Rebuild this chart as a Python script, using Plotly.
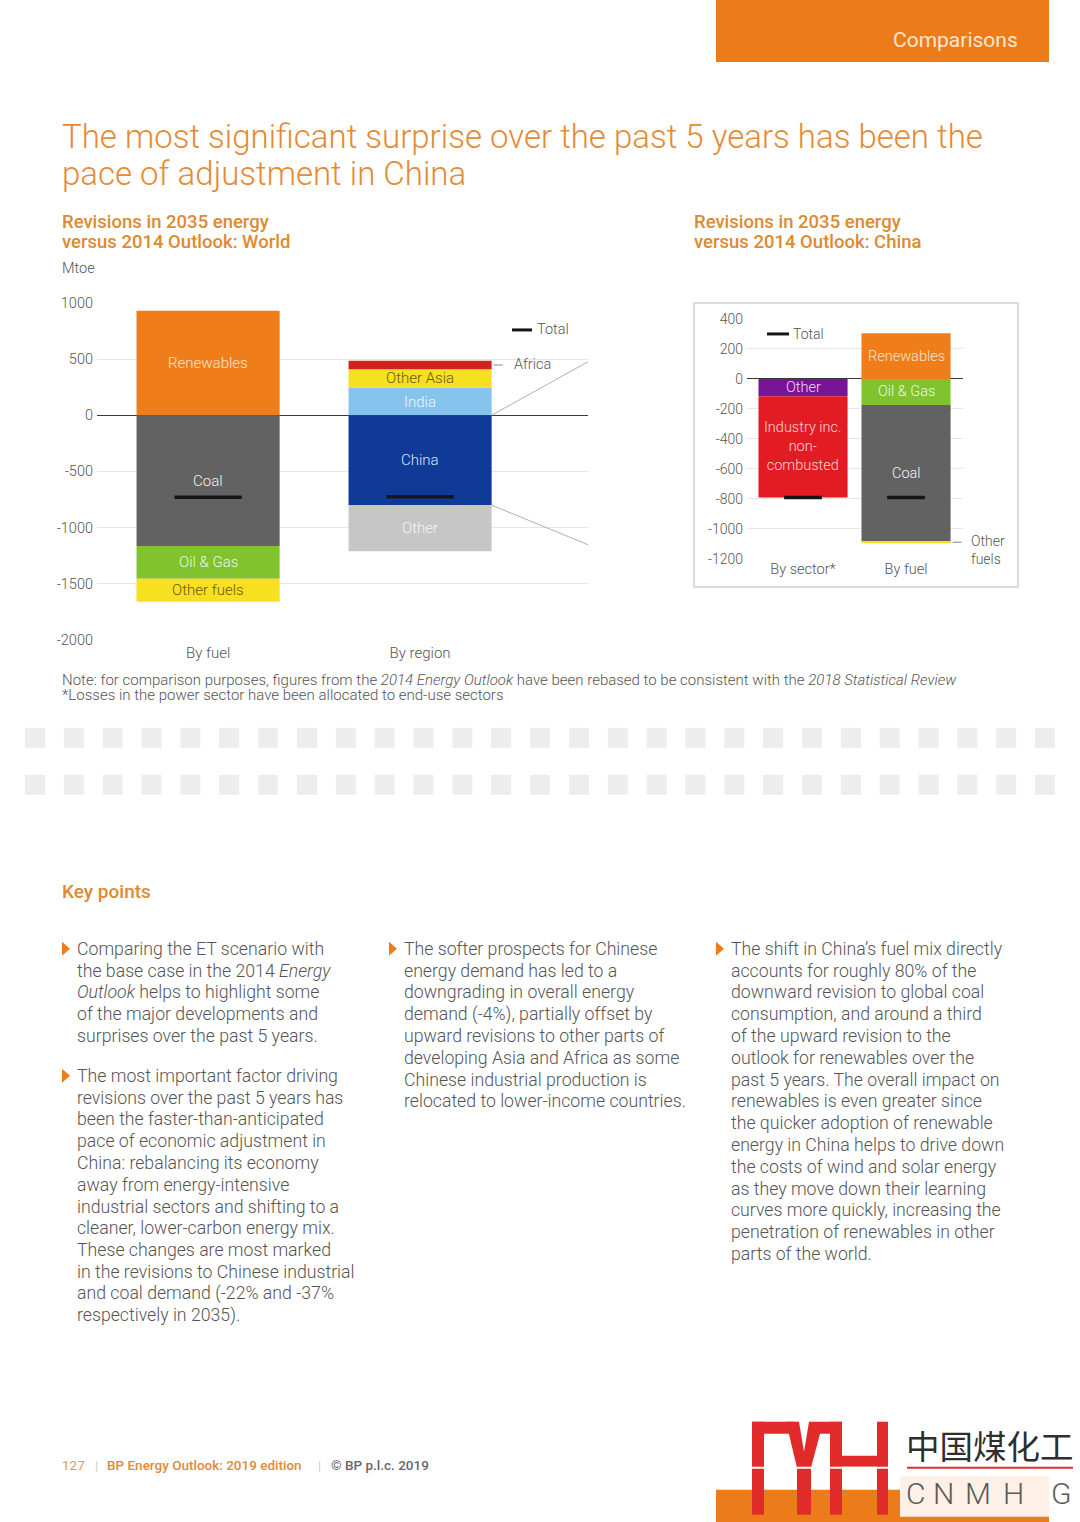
import plotly.graph_objects as go

W, H = 1080, 1522
# the capture maps page y to roughly 8 + 0.989*y; positions below are given in
# target-image pixels and converted back to page pixels here
Y_OFF, Y_SCALE = 8.0, 0.989


def px(x):
    return x / W


def py(y):
    return 1 - ((y - Y_OFF) / Y_SCALE) / H


# ---------------- data ----------------
world_cats = ["By fuel", "By region"]
world_fuel_labels = ["Renewables", "Coal", "Oil & Gas", "Other fuels"]
world_fuel_values = [930, -1165, -290, -205]
world_fuel_total = -730
world_region_labels = ["India", "Other Asia", "Africa", "China", "Other"]
world_region_values = [245, 165, 75, -800, -410]
world_region_total = -725
world_ticks = [1000, 500, 0, -500, -1000, -1500, -2000]

china_cats = ["By sector*", "By fuel"]
china_sector_labels = ["Other", "Industry inc.<br>non-<br>combusted"]
china_sector_values = [-115, -675]
china_sector_total = -790
china_fuel_labels = ["Renewables", "Oil & Gas", "Coal", "Other fuels"]
china_fuel_values = [305, -173, -910, -12]
china_fuel_total = -790
china_ticks = [400, 200, 0, -200, -400, -600, -800, -1000, -1200]

# ---------------- styles ----------------
ORANGE = "#ec7d1d"
TXT = "#555555"
FONT = "Roboto"
LIGHT = 300
seg_color = {
    "Renewables": "#ee7d1a", "Coal": "#626262", "Oil & Gas": "#80c32e",
    "Other fuels": "#f6e020", "India": "#86c4ee", "Other Asia": "#f6e020",
    "Africa": "#d8201f", "China": "#0f3a98", "Other": "#c6c6c6",
}
seg_text = {
    "Renewables": "#fbe3cf", "Coal": "#f2f2f2", "Oil & Gas": "#eef7e0",
    "Other fuels": "#6b5a10", "India": "#eef7fd", "Other Asia": "#6b5a10",
    "China": "#dfe6f6", "Other": "#f5f5f5",
}
china_seg_color = {"Other": "#7a1497", "Industry inc.<br>non-<br>combusted": "#e31b22",
                   "Renewables": "#ee7d1a", "Oil & Gas": "#80c32e", "Coal": "#626262",
                   "Other fuels": "#f6e020"}
china_seg_text = {"Other": "#f0d8f6", "Industry inc.<br>non-<br>combusted": "#fbd5d5",
                  "Renewables": "#fbe3cf", "Oil & Gas": "#eef7e0", "Coal": "#f2f2f2"}
outside_labelled = {"Africa", "Other fuels_china"}


def stack(values):
    pos, neg, bases = 0, 0, []
    for v in values:
        if v >= 0:
            bases.append(pos)
            pos += v
        else:
            bases.append(neg)
            neg += v
    return bases


fig = go.Figure()
annotations = []
shapes = []


def txt(x, y, text, size, color=TXT, weight=LIGHT, anchor="left", family=FONT, align="left"):
    dx = -2 if anchor == "left" else (2 if anchor == "right" else 0)
    annotations.append(dict(x=px(x + dx), y=py(y), xref="paper", yref="paper", text=text,
                            showarrow=False, xanchor=anchor, yanchor="middle", align=align,
                            font=dict(family=family, size=size, color=color, weight=weight)))


# ---------------- bars ----------------
def add_stack(xpos, labels, values, width, colors, tcolors, xa, ya, fsize, tag=""):
    bases = stack(values)
    for lab, v, b in zip(labels, values, bases):
        fig.add_trace(go.Bar(x=[xpos], y=[v], base=[b], width=[width],
                             marker=dict(color=colors[lab], line=dict(width=0)),
                             xaxis=xa, yaxis=ya, showlegend=False, hoverinfo="skip"))
        key = lab + tag
        if lab in outside_labelled or key in outside_labelled:
            continue
        annotations.append(dict(x=xpos, y=b + v / 2, xref=xa, yref=ya, text=lab,
                                showarrow=False,
                                font=dict(family=FONT, size=fsize, color=tcolors[lab],
                                          weight=LIGHT),
                                xanchor="center", yanchor="middle"))
    return bases


add_stack(0, world_fuel_labels, world_fuel_values, 0.675, seg_color, seg_text, "x", "y", 15)
reg_bases = add_stack(1, world_region_labels, world_region_values, 0.675, seg_color, seg_text,
                      "x", "y", 15)
add_stack(0, china_sector_labels, china_sector_values, 0.865, china_seg_color, china_seg_text,
          "x2", "y2", 14.5)
cf_bases = add_stack(1, china_fuel_labels, china_fuel_values, 0.865, china_seg_color,
                     china_seg_text, "x2", "y2", 14.5, tag="_china")

fig.add_trace(go.Scatter(x=[0, 1], y=[world_fuel_total, world_region_total], mode="markers",
                         marker=dict(symbol="line-ew", size=48,
                                     line=dict(width=3.5, color="#151515")),
                         xaxis="x", yaxis="y", showlegend=False, hoverinfo="skip"))
fig.add_trace(go.Scatter(x=[0, 1], y=[china_sector_total, china_fuel_total], mode="markers",
                         marker=dict(symbol="line-ew", size=27,
                                     line=dict(width=3.5, color="#151515")),
                         xaxis="x2", yaxis="y2", showlegend=False, hoverinfo="skip"))

# ---------------- header ----------------
shapes.append(dict(type="rect", xref="paper", yref="paper", x0=px(716), x1=px(1049),
                   y0=py(62), y1=1.02, fillcolor="#ec7c1a", line=dict(width=0), layer="below"))
txt(1018, 40, "Comparisons", 21, "#fde6cf", 400, anchor="right")

txt(62, 137, "The most significant surprise over the past 5 years has been the", 33, "#e58a35")
txt(62, 174, "pace of adjustment in China", 33, "#e58a35")

for xx, t1, t2 in [(62, "Revisions in 2035 energy", "versus 2014 Outlook: World"),
                   (694, "Revisions in 2035 energy", "versus 2014 Outlook: China")]:
    txt(xx, 222, t1, 18.5, "#de8a30", 500)
    txt(xx, 242, t2, 18.5, "#de8a30", 500)

txt(62, 269, "Mtoe", 14.5)

# ---------------- chart decorations ----------------
shapes.append(dict(type="line", xref="paper", yref="paper", x0=px(512), x1=px(532),
                   y0=py(330), y1=py(330), line=dict(color="#151515", width=3)))
txt(537, 330, "Total", 14.5)
africa_mid = reg_bases[2] + world_region_values[2] / 2
shapes.append(dict(type="line", xref="x", yref="y", x0=1 + 0.675 / 2 + 0.01, x1=1.43,
                   y0=africa_mid, y1=africa_mid, line=dict(color="#888", width=1, dash="dash")))
annotations.append(dict(x=1.435, y=africa_mid, xref="x", yref="y", text="Africa",
                        showarrow=False, xanchor="left", yanchor="middle",
                        font=dict(family=FONT, size=14.5, color=TXT, weight=LIGHT)))

shapes.append(dict(type="rect", xref="paper", yref="paper", x0=px(694), x1=px(1018),
                   y0=py(587), y1=py(303), line=dict(color="#cfcfcf", width=1.5),
                   fillcolor="rgba(0,0,0,0)"))
china_bottom = reg_bases[3] + world_region_values[3]
x_box_left = (694 - 97) / 491 * 2.316 - 0.524
shapes.append(dict(type="line", xref="x", yref="y", x0=1 + 0.675 / 2, y0=0,
                   x1=x_box_left, y1=1000, line=dict(color="#b0b0b0", width=1)))
shapes.append(dict(type="line", xref="x", yref="y", x0=1 + 0.675 / 2, y0=china_bottom,
                   x1=x_box_left, y1=-(587 - 414) / 112.3 * 1000,
                   line=dict(color="#b0b0b0", width=1)))

shapes.append(dict(type="line", xref="paper", yref="paper", x0=px(767), x1=px(789),
                   y0=py(334), y1=py(334), line=dict(color="#151515", width=3)))
txt(793, 334, "Total", 14)
of_mid = cf_bases[3] + china_fuel_values[3] / 2
shapes.append(dict(type="line", xref="x2", yref="y2", x0=1 + 0.865 / 2 + 0.02, x1=1.58,
                   y0=of_mid, y1=of_mid, line=dict(color="#888", width=1, dash="dash")))
txt(971, 550, "Other<br>fuels", 14)

txt(62, 680, "Note: for comparison purposes, figures from the <i>2014 Energy Outlook</i> "
             "have been rebased to be consistent with the <i>2018 Statistical Review</i>", 15)
txt(62, 695, "*Losses in the power sector have been allocated to end-use sectors", 15)

for row_y in (728, 775):
    for i in range(27):
        x0 = 25 + i * 38.85
        shapes.append(dict(type="rect", xref="paper", yref="paper", x0=px(x0), x1=px(x0 + 20),
                           y0=py(row_y + 20), y1=py(row_y), fillcolor="#ededed",
                           line=dict(width=0), layer="below"))

# ---------------- key points ----------------
txt(62, 892, "Key points", 19, "#de8a30", 500)

col1_b1 = ["Comparing the ET scenario with",
           "the base case in the 2014 <i>Energy</i>",
           "<i>Outlook</i> helps to highlight some",
           "of the major developments and",
           "surprises over the past 5 years."]
col1_b2 = ["The most important factor driving",
           "revisions over the past 5 years has",
           "been the faster-than-anticipated",
           "pace of economic adjustment in",
           "China: rebalancing its economy",
           "away from energy-intensive",
           "industrial sectors and shifting to a",
           "cleaner, lower-carbon energy mix.",
           "These changes are most marked",
           "in the revisions to Chinese industrial",
           "and coal demand (-22% and -37%",
           "respectively in 2035)."]
col2_b1 = ["The softer prospects for Chinese",
           "energy demand has led to a",
           "downgrading in overall energy",
           "demand (-4%), partially offset by",
           "upward revisions to other parts of",
           "developing Asia and Africa as some",
           "Chinese industrial production is",
           "relocated to lower-income countries."]
col3_b1 = ["The shift in China\u2019s fuel mix directly",
           "accounts for roughly 80% of the",
           "downward revision to global coal",
           "consumption, and around a third",
           "of the upward revision to the",
           "outlook for renewables over the",
           "past 5 years. The overall impact on",
           "renewables is even greater since",
           "the quicker adoption of renewable",
           "energy in China helps to drive down",
           "the costs of wind and solar energy",
           "as they move down their learning",
           "curves more quickly, increasing the",
           "penetration of renewables in other",
           "parts of the world."]

LINE = 21.8


def bullet(xb, y0, lines):
    shapes.append(dict(type="path", xref="paper", yref="paper",
                       path=f"M {px(xb)},{py(y0 - 7)} L {px(xb + 8)},{py(y0)} "
                            f"L {px(xb)},{py(y0 + 7)} Z",
                       fillcolor=ORANGE, line=dict(width=0)))
    for i, t in enumerate(lines):
        txt(xb + 15, y0 + i * LINE, t, 17.7)


bullet(62, 949, col1_b1)
bullet(62, 1076, col1_b2)
bullet(389, 949, col2_b1)
bullet(716, 949, col3_b1)

# ---------------- footer ----------------
txt(62, 1465, "127", 13.5, "#e49a55", 400)
txt(95, 1465, "|", 13.5, "#bbbbbb", 300)
txt(107, 1465, "BP Energy Outlook: 2019 edition", 13.5, "#e08a3a", 500)
txt(318, 1465, "|", 13.5, "#bbbbbb", 300)
txt(331, 1465, "\u00a9 BP p.l.c. 2019", 13.5, "#666666", 500)

shapes.append(dict(type="rect", xref="paper", yref="paper", x0=px(716), x1=px(1049),
                   y0=-0.02, y1=py(1490), fillcolor="#ec7c1a", line=dict(width=0)))
shapes.append(dict(type="rect", xref="paper", yref="paper", x0=px(900), x1=px(1049),
                   y0=py(1517), y1=py(1476), fillcolor="#fdf0e6", line=dict(width=0)))
RED = "#e12b2a"


def prect(x0, y0, x1, y1, color=RED):
    shapes.append(dict(type="rect", xref="paper", yref="paper", x0=px(x0), x1=px(x1),
                       y0=py(y1), y1=py(y0), fillcolor=color, line=dict(width=0)))


prect(752, 1422, 764, 1515)
prect(752, 1422, 795, 1434)
shapes.append(dict(type="path", xref="paper", yref="paper",
                   path=(f"M {px(786)},{py(1422)} L {px(799)},{py(1422)} L {px(804)},{py(1452)} "
                         f"L {px(809)},{py(1422)} L {px(842)},{py(1422)} L {px(842)},{py(1434)} "
                         f"L {px(820)},{py(1434)} L {px(811)},{py(1468)} L {px(797)},{py(1468)} Z"),
                   fillcolor=RED, line=dict(width=0)))
prect(797, 1468, 811, 1515)
prect(830, 1422, 842, 1515)
prect(877, 1422, 888, 1515)
prect(842, 1456, 877, 1467)
prect(750, 1467, 892, 1469, "#ffffff")

txt(906, 1445, "中国煤化工", 33.5, "#2e2e2e", 400, family="Noto Sans CJK SC")
shapes.append(dict(type="line", xref="paper", yref="paper", x0=px(907), x1=px(1073),
                   y0=py(1468), y1=py(1468), line=dict(color=RED, width=2)))
for ch, cx in zip("CNMHG", [915, 943, 978, 1013, 1061]):
    txt(cx, 1494, ch, 30, "#5a5a5a", LIGHT, anchor="center")

# ---------------- layout ----------------
fig.update_layout(
    width=W, height=H, margin=dict(l=0, r=0, t=0, b=0),
    paper_bgcolor="white", plot_bgcolor="white", barmode="overlay",
    font=dict(family=FONT, color=TXT, weight=LIGHT),
    showlegend=False,
    xaxis=dict(domain=[px(97), px(588)], range=[-0.524, 1.792], tickvals=[0, 1],
               ticktext=world_cats, showgrid=False, zeroline=False, showline=False,
               ticklabelstandoff=2,
               tickfont=dict(size=15, color=TXT, weight=LIGHT), anchor="y", fixedrange=True),
    yaxis=dict(domain=[py(640), py(303)], range=[-2000, 1000], tickvals=world_ticks,
               ticktext=[str(v) for v in world_ticks], gridcolor="#e6e6e6", gridwidth=1,
               zeroline=True, zerolinecolor="#3a3a3a", zerolinewidth=1.2, showline=False,
               ticklabelstandoff=3,
               tickfont=dict(size=14.5, color=TXT, weight=LIGHT), anchor="x", fixedrange=True),
    xaxis2=dict(domain=[px(747), px(963)], range=[-0.544, 1.553], tickvals=[0, 1],
                ticktext=china_cats, showgrid=False, zeroline=False, showline=False,
                tickfont=dict(size=14.5, color=TXT, weight=LIGHT), anchor="y2", fixedrange=True),
    yaxis2=dict(domain=[py(559), py(319)], range=[-1200, 400], tickvals=china_ticks,
                ticktext=[str(v) for v in china_ticks], gridcolor="#e6e6e6", gridwidth=1,
                zeroline=True, zerolinecolor="#3a3a3a", zerolinewidth=1.2, showline=False,
                ticklabelstandoff=3,
                tickfont=dict(size=14, color=TXT, weight=LIGHT), anchor="x2", fixedrange=True),
    annotations=annotations, shapes=shapes,
)

fig.write_html(
    "out.html",
    config={"displayModeBar": False},
    post_script=("document.body.style.margin='0px';document.body.style.padding='0px';"
                 "var d=document.getElementById('{plot_id}');"
                 "d.style.position='fixed';d.style.left='0px';d.style.top='0px';"),
)
